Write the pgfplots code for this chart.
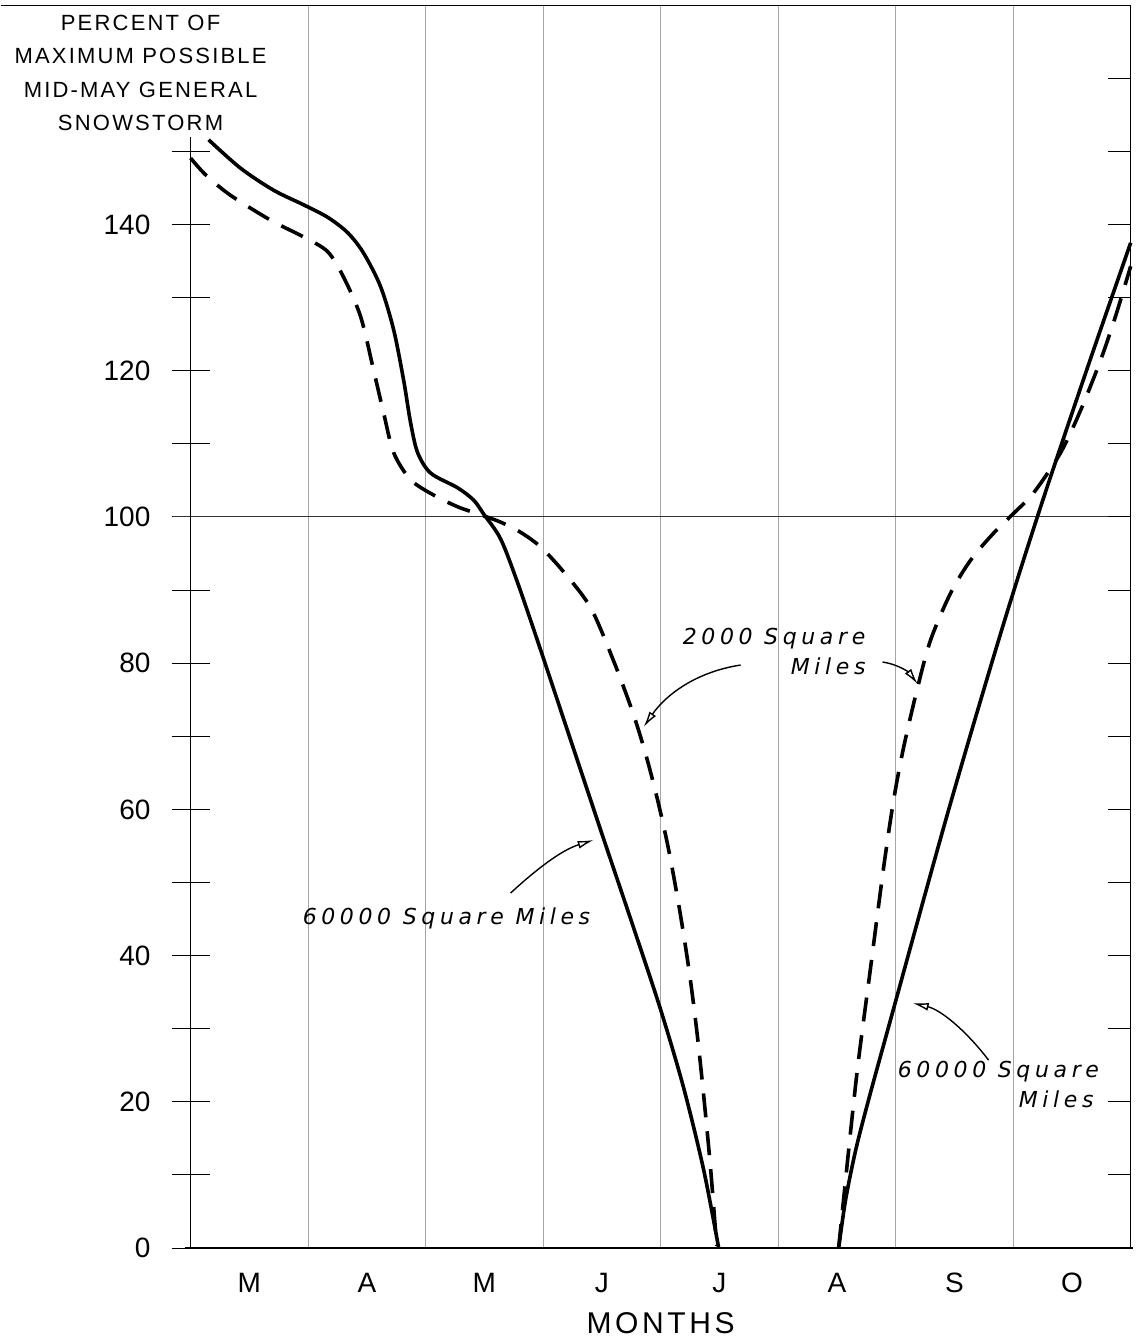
\documentclass[border=0pt]{standalone}
\usepackage{fontspec}
\setmainfont{Liberation Sans}
\newfontfamily\spaced[LetterSpace=10]{Liberation Sans}
\newfontfamily\lab[LetterSpace=21]{DejaVu Sans}
\newfontfamily\mon[LetterSpace=12]{Liberation Sans}
\usepackage{pgfplots}
\pgfplotsset{compat=1.18}
\usetikzlibrary{arrows.meta}
\begin{document}
\begin{tikzpicture}
\begin{axis}[
  scale only axis, width=940pt, height=1242.7pt,
  xmin=0, xmax=8, ymin=0, ymax=170,
  clip=false,
  axis line style={draw=none},
  xtick={0.5,1.5,...,7.5}, xticklabels={M,A,M,J,J,A,S,O},
  xtick style={draw=none},
  xticklabel style={font=\fontsize{28}{28}\selectfont, anchor=base, inner sep=0pt, yshift=-25pt},
  ytick={0,20,...,140}, minor ytick={10,30,...,150},
  ytick pos=left, xtick pos=bottom, tick align=center,
  major tick length=38pt, minor tick length=38pt,
  ytick style={line width=1pt, black},
  minor tick style={line width=1pt, black},
  yticklabel style={font=\fontsize{28}{28}\selectfont, anchor=east, inner sep=0pt, xshift=-21pt},
  /pgf/number format/assume math mode=true,
  xlabel={MONTHS},
  xlabel style={at={(axis description cs:0.5,-0.0684)}, anchor=base, inner sep=0pt, font=\mon\fontsize{30}{30}\selectfont},
]
% bounding box
\path (axis cs:-1.617,-12.17) rectangle (axis cs:8.06,170.72);
% grid and frame
\draw[gray!70, line width=0.9pt] (axis cs:1,0) -- (axis cs:1,170);
\draw[gray!70, line width=0.9pt] (axis cs:2,0) -- (axis cs:2,170);
\draw[gray!70, line width=0.9pt] (axis cs:3,0) -- (axis cs:3,170);
\draw[gray!70, line width=0.9pt] (axis cs:4,0) -- (axis cs:4,170);
\draw[gray!70, line width=0.9pt] (axis cs:5,0) -- (axis cs:5,170);
\draw[gray!70, line width=0.9pt] (axis cs:6,0) -- (axis cs:6,170);
\draw[gray!70, line width=0.9pt] (axis cs:7,0) -- (axis cs:7,170);
\draw[black!80, line width=1pt] (axis cs:-0.15,100) -- (axis cs:8,100);
\draw[line width=1.6pt] (axis cs:-0.05,0) -- (axis cs:8.02,0);
\draw[line width=1.2pt] (axis cs:0,0) -- (axis cs:0,152);
\draw[line width=1.2pt] (axis cs:8,0) -- (axis cs:8,170);
\draw[line width=1.2pt] (axis cs:-1.617,170) -- (axis cs:8,170);
\pgfplotsinvokeforeach{10,20,...,160}{\draw[line width=1pt] (axis cs:8,#1) -- ++(-23pt,0);}
% title
\node[align=center, anchor=north, inner sep=0pt, font=\spaced\fontsize{22}{33.5}\selectfont] at (axis cs:-0.426,168.7) {PERCENT OF\\MAXIMUM POSSIBLE\\MID-MAY GENERAL\\SNOWSTORM};
% 60000 square miles (solid)
\addplot[black, line width=3.6pt, smooth, tension=0.5] coordinates {
(0.153,151.6) (0.426,147.7) (0.706,144.7) (0.962,142.7) (1.166,141.0) (1.336,138.9)
(1.472,136.1) (1.617,131.5) (1.728,125.6) (1.813,118.7) (1.872,112.9) (1.932,108.8)
(2.043,106.0) (2.272,104.0) (2.409,102.3) (2.494,100.4) (2.638,97.0) (2.783,91.0)
(2.979,81.8) (3.209,70.7) (3.489,57.2) (3.770,43.8) (4.000,32.6) (4.196,21.9)
(4.366,10.7) (4.494,0)
};
\addplot[black, line width=3.6pt, smooth, tension=0.5] coordinates {
(5.515,0) (5.574,6.6) (5.660,13.4) (5.770,20.3) (5.932,29.8) (6.443,59.5) (6.894,84.1) (7.234,101.4)
(7.634,120.5) (8.0,137.5)
};
% 2000 square miles (dashed)
\addplot[black, line width=3.6pt, smooth, tension=0.5, dash pattern=on 24pt off 14pt] coordinates {
(0,149.1) (0.128,146.8) (0.340,144.0) (0.681,140.6) (0.962,138.3) (1.166,136.3)
(1.302,132.8) (1.447,127.4) (1.557,120.1) (1.643,114.2) (1.728,108.8) (1.872,105.1)
(2.068,103.0) (2.272,101.4) (2.468,100.3) (2.638,99.3) (2.809,97.9) (2.979,95.9)
(3.174,92.5) (3.404,87.6) (3.600,80.3) (3.762,73.3) (3.872,67.6) (3.974,61.3)
(4.068,54.5) (4.162,46.2) (4.247,37.4) (4.315,28.7) (4.374,19.6) (4.426,10.7) (4.477,0.3)
};
\addplot[black, line width=3.6pt, smooth, tension=0.5, dash pattern=on 24pt off 14pt] coordinates {
(5.515,0) (5.591,12.0) (5.677,24.8) (5.787,38.4) (5.898,52.1) (5.983,61.3) (6.068,68.5)
(6.187,76.7) (6.298,83.2) (6.468,89.6) (6.638,94.1) (6.834,97.8) (7.004,100.5)
(7.174,103.3) (7.404,108.8) (7.574,114.6) (7.745,121.5) (7.872,127.5) (8.0,134.3)
};
% labels
\node[anchor=base west, inner sep=0pt, font=\lab\itshape\fontsize{22}{22}\selectfont] at (axis cs:4.187,82.49) {2000 Square};
\node[anchor=base west, inner sep=0pt, font=\lab\itshape\fontsize{22}{22}\selectfont] at (axis cs:5.106,78.39) {Miles};
\node[anchor=base west, inner sep=0pt, font=\lab\itshape\fontsize{22}{22}\selectfont] at (axis cs:0.953,44.19) {60000 Square Miles};
\node[anchor=base west, inner sep=0pt, font=\lab\itshape\fontsize{22}{22}\selectfont] at (axis cs:6.017,23.39) {60000 Square};
\node[anchor=base west, inner sep=0pt, font=\lab\itshape\fontsize{22}{22}\selectfont] at (axis cs:7.047,19.29) {Miles};
% arrows
\draw[line width=1.4pt, -{Latex[open, length=16pt, width=8pt]}] (axis cs:4.681,79.75) .. controls (axis cs:4.298,78.8) and (axis cs:4.043,75.65) .. (axis cs:3.855,71.27);
\draw[line width=1.4pt, -{Latex[open, length=16pt, width=8pt]}] (axis cs:5.889,80.16) .. controls (axis cs:6.043,79.75) and (axis cs:6.12,78.6) .. (axis cs:6.187,77.15);
\draw[line width=1.4pt, -{Latex[open, length=16pt, width=8pt]}] (axis cs:2.723,48.56) .. controls (axis cs:2.936,51.7) and (axis cs:3.149,54.4) .. (axis cs:3.430,55.81);
\draw[line width=1.4pt, -{Latex[open, length=16pt, width=8pt]}] (axis cs:6.791,25.7) .. controls (axis cs:6.596,29.8) and (axis cs:6.383,32.6) .. (axis cs:6.145,33.5);
\end{axis}
\end{tikzpicture}
\end{document}
